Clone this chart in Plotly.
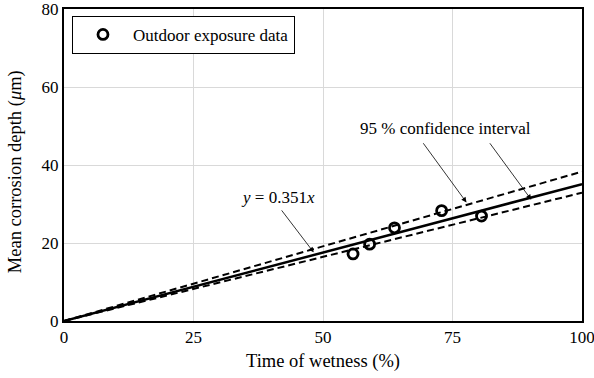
import plotly.graph_objects as go

# Data
tow = [55.8, 59.0, 63.8, 72.9, 80.6]          # Time of wetness (%)
depth = [17.2, 19.7, 23.9, 28.3, 26.9]        # Mean corrosion depth (um)
fit_slope = 0.351
ci_upper_slope = 0.383
ci_lower_slope = 0.329
line_x = [0, 100]
x_ticks = [0, 25, 50, 75, 100]
y_ticks = [0, 20, 40, 60, 80]

# annotation arrows (tail x, tail y, tip x, tip y) in data units
arrows = [
    (41.8, 28.75, 48.2, 17.6),
    (69.15, 45.96, 77.7, 30.4),
    (82.0, 45.96, 90.2, 31.1),
]

FONT = "Times New Roman, Liberation Serif, DejaVu Serif, serif"

fig = go.Figure()
fig.add_trace(go.Scatter(x=line_x, y=[ci_upper_slope * v for v in line_x], mode="lines",
                         line=dict(color="black", width=2, dash="7px,4px"), showlegend=False))
fig.add_trace(go.Scatter(x=line_x, y=[ci_lower_slope * v for v in line_x], mode="lines",
                         line=dict(color="black", width=2, dash="7px,4px"), showlegend=False))
fig.add_trace(go.Scatter(x=line_x, y=[fit_slope * v for v in line_x], mode="lines",
                         line=dict(color="black", width=2.5), showlegend=False))
fig.add_trace(go.Scatter(x=tow, y=depth, mode="markers", name="Outdoor exposure data",
                         marker=dict(symbol="circle-open", size=10, color="black",
                                     line=dict(width=2.8, color="black"))))

for (ax, ay, x, y) in arrows:
    fig.add_annotation(x=x, y=y, ax=ax, ay=ay, xref="x", yref="y", axref="x", ayref="y",
                       text="", showarrow=True, arrowhead=2, arrowsize=1.3, arrowwidth=0.8,
                       arrowcolor="black")

fig.add_annotation(x=41.4, y=31.6, xref="x", yref="y", text="<i>y</i> = 0.351<i>x</i>",
                   showarrow=False, font=dict(family=FONT, size=17, color="black"))
fig.add_annotation(x=73.6, y=49.45, xref="x", yref="y", text="95 % confidence interval",
                   showarrow=False, font=dict(family=FONT, size=17, color="black"))
# y-axis title (placed as annotation to match the reference's vertical offset)
fig.add_annotation(x=-0.0946, y=0.48, xref="paper", yref="paper", xanchor="center", yanchor="middle",
                   text="Mean corrosion depth (<i>μ</i>m)", textangle=-90, showarrow=False,
                   font=dict(family=FONT, size=18.5, color="black"))

axis_common = dict(showline=True, linecolor="black", linewidth=2, mirror=True,
                   showgrid=True, gridcolor="#d9d9d9", gridwidth=1, zeroline=False,
                   automargin=False, ticklabeloverflow="allow",
                   ticks="", tickfont=dict(family=FONT, size=17, color="black"))
fig.update_xaxes(range=[0, 100], tickvals=x_ticks,
                 title=dict(text="Time of wetness (%)", font=dict(family=FONT, size=18.5, color="black"),
                            standoff=8), **axis_common)
fig.update_yaxes(range=[0, 80], tickvals=y_ticks, **axis_common)

fig.update_layout(
    width=594, height=378,
    margin=dict(l=64, r=12, t=9, b=57),
    plot_bgcolor="white", paper_bgcolor="white",
    font=dict(family=FONT, size=17, color="black"),
    showlegend=True,
    legend=dict(x=0.0154, y=0.978, xanchor="left", yanchor="top",
                bordercolor="black", borderwidth=1, bgcolor="white",
                font=dict(family=FONT, size=17, color="black"), itemwidth=50),
)

fig.write_html("out.html")
